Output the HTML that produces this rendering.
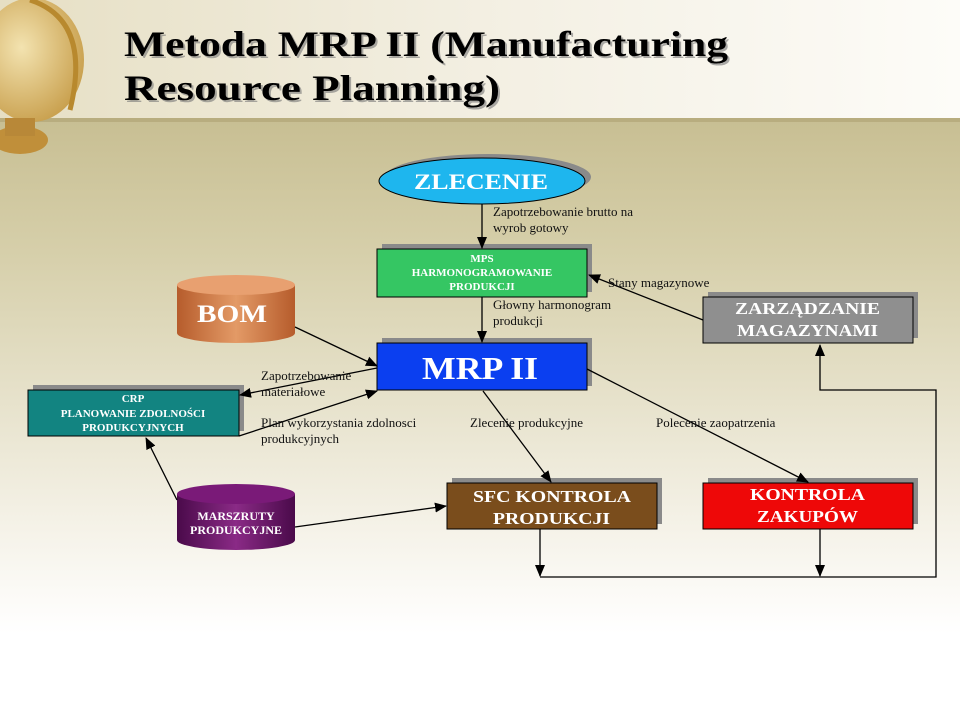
<!DOCTYPE html>
<html><head><meta charset="utf-8"><style>
html,body{margin:0;padding:0;width:960px;height:720px;overflow:hidden;}
svg{display:block}
.t{font-family:"Liberation Serif",serif;}
</style></head><body>
<svg width="960" height="720" viewBox="0 0 960 720" xmlns="http://www.w3.org/2000/svg">
<defs>
<linearGradient id="hdr" x1="0" y1="0" x2="1" y2="0"><stop offset="0" stop-color="#e6dfc4"/><stop offset="0.5" stop-color="#f3efe2"/><stop offset="1" stop-color="#fdfcf8"/></linearGradient>
<linearGradient id="bg" x1="0" y1="0" x2="0" y2="1"><stop offset="0" stop-color="#bbb07e"/><stop offset="0.35" stop-color="#d6cfaa"/><stop offset="0.72" stop-color="#f4f1e6"/><stop offset="0.88" stop-color="#ffffff"/><stop offset="1" stop-color="#ffffff"/></linearGradient>
<radialGradient id="globe" cx="0.4" cy="0.4" r="0.7"><stop offset="0" stop-color="#f3e3b0"/><stop offset="1" stop-color="#c59a45"/></radialGradient>
<linearGradient id="bom" x1="0" y1="0" x2="1" y2="0"><stop offset="0" stop-color="#b65c2c"/><stop offset="0.5" stop-color="#e39a66"/><stop offset="1" stop-color="#b65c2c"/></linearGradient>
<linearGradient id="mar" x1="0" y1="0" x2="1" y2="0"><stop offset="0" stop-color="#4a0a4a"/><stop offset="0.5" stop-color="#8a2a86"/><stop offset="1" stop-color="#4a0a4a"/></linearGradient>
<marker id="a" markerWidth="12" markerHeight="12" refX="11" refY="6" orient="auto" markerUnits="userSpaceOnUse"><path d="M0,1 L12,6 L0,11 z" fill="#000"/></marker>
</defs>
<rect x="0" y="0" width="960" height="720" fill="url(#bg)"/>
<rect x="0" y="0" width="960" height="118" fill="url(#hdr)"/>
<rect x="0" y="118" width="960" height="4" fill="#aea271" opacity="0.6"/>
<!-- globe -->
<ellipse cx="32" cy="60" rx="52" ry="62" fill="url(#globe)"/>
<path d="M30,0 Q92,20 70,110" stroke="#b8892e" stroke-width="5" fill="none"/>
<ellipse cx="20" cy="140" rx="28" ry="14" fill="#c08f3a"/>
<rect x="5" y="118" width="30" height="18" fill="#b88838"/>
<g class="t" font-weight="bold" font-size="36" fill="#000">
<text x="126" y="58" fill="#777" opacity="0.6" textLength="604" lengthAdjust="spacingAndGlyphs">Metoda MRP II (Manufacturing</text>
<text x="124" y="56" textLength="604" lengthAdjust="spacingAndGlyphs">Metoda MRP II (Manufacturing</text>
<text x="126" y="102" fill="#777" opacity="0.6" textLength="376" lengthAdjust="spacingAndGlyphs">Resource Planning)</text>
<text x="124" y="100" textLength="376" lengthAdjust="spacingAndGlyphs">Resource Planning)</text>
</g>
<!-- shadows -->
<g fill="#8a8a8a">
<ellipse cx="488" cy="177" rx="103" ry="23"/>
<rect x="382" y="244" width="210" height="48"/>
<rect x="382" y="338" width="210" height="48"/>
<rect x="33" y="385" width="211" height="46"/>
<rect x="452" y="478" width="210" height="46"/>
<rect x="708" y="478" width="210" height="46"/>
<rect x="708" y="292" width="210" height="46"/>
</g>
<ellipse cx="482" cy="181" rx="103" ry="23" fill="#1eb6ee" stroke="#000" stroke-width="1"/>
<rect x="377" y="249" width="210" height="48" fill="#35c663" stroke="#000"/>
<rect x="377" y="343" width="210" height="47" fill="#0b3ff0" stroke="#000"/>
<rect x="28" y="390" width="211" height="46" fill="#128481" stroke="#000"/>
<rect x="447" y="483" width="210" height="46" fill="#7a4d1c" stroke="#000"/>
<rect x="703" y="483" width="210" height="46" fill="#ee0808" stroke="#000"/>
<rect x="703" y="297" width="210" height="46" fill="#8f8f8f" stroke="#000"/>
<!-- cylinders -->
<rect x="177" y="285" width="118" height="48" fill="url(#bom)"/>
<ellipse cx="236" cy="333" rx="59" ry="10" fill="url(#bom)"/>
<ellipse cx="236" cy="285" rx="59" ry="10" fill="#e8a070"/>
<rect x="177" y="494" width="118" height="46" fill="url(#mar)"/>
<ellipse cx="236" cy="540" rx="59" ry="10" fill="url(#mar)"/>
<ellipse cx="236" cy="494" rx="59" ry="10" fill="#7a1a78"/>
<g class="t" fill="#fff" font-weight="bold">
<text x="414" y="189" font-size="22" textLength="134" lengthAdjust="spacingAndGlyphs">ZLECENIE</text>
<g text-anchor="middle">
<text x="482" y="262" font-size="11">MPS</text>
<text x="482" y="276" font-size="11">HARMONOGRAMOWANIE</text>
<text x="482" y="290" font-size="11">PRODUKCJI</text>
<text x="133" y="402" font-size="11">CRP</text>
<text x="133" y="417" font-size="11">PLANOWANIE ZDOLNOŚCI</text>
<text x="133" y="431" font-size="11">PRODUKCYJNYCH</text>
<text x="236" y="520" font-size="12">MARSZRUTY</text>
<text x="236" y="534" font-size="12">PRODUKCYJNE</text>
</g>
<text x="422" y="379" font-size="32" textLength="116" lengthAdjust="spacingAndGlyphs">MRP II</text>
<text x="473" y="502" font-size="17" textLength="158" lengthAdjust="spacingAndGlyphs">SFC KONTROLA</text>
<text x="493" y="524" font-size="17" textLength="117" lengthAdjust="spacingAndGlyphs">PRODUKCJI</text>
<text x="750" y="500" font-size="17" textLength="115" lengthAdjust="spacingAndGlyphs">KONTROLA</text>
<text x="757" y="522" font-size="17" textLength="101" lengthAdjust="spacingAndGlyphs">ZAKUPÓW</text>
<text x="735" y="314" font-size="17" textLength="145" lengthAdjust="spacingAndGlyphs">ZARZĄDZANIE</text>
<text x="737" y="336" font-size="17" textLength="141" lengthAdjust="spacingAndGlyphs">MAGAZYNAMI</text>
<text x="197" y="322" font-size="25" textLength="70" lengthAdjust="spacingAndGlyphs">BOM</text>
</g>
<!-- connectors -->
<g stroke="#000" stroke-width="1.3" fill="none">
<line x1="482" y1="204" x2="482" y2="248" marker-end="url(#a)"/>
<line x1="482" y1="297" x2="482" y2="342" marker-end="url(#a)"/>
<line x1="295" y1="327" x2="377" y2="366" marker-end="url(#a)"/>
<line x1="377" y1="368" x2="240" y2="395" marker-end="url(#a)"/>
<line x1="239" y1="436" x2="377" y2="391" marker-end="url(#a)"/>
<line x1="483" y1="391" x2="551" y2="482" marker-end="url(#a)"/>
<line x1="587" y1="369" x2="808" y2="482" marker-end="url(#a)"/>
<line x1="703" y1="320" x2="589" y2="275" marker-end="url(#a)"/>
<line x1="177" y1="500" x2="146" y2="438" marker-end="url(#a)"/>
<line x1="295" y1="527" x2="446" y2="506" marker-end="url(#a)"/>
<line x1="540" y1="529" x2="540" y2="576" marker-end="url(#a)"/>
<line x1="820" y1="529" x2="820" y2="576" marker-end="url(#a)"/>
<polyline points="540,577 936,577 936,390 820,390 820,345" marker-end="url(#a)"/>
</g>
<g class="t" font-size="13" fill="#111">
<text x="493" y="216">Zapotrzebowanie brutto na</text>
<text x="493" y="232">wyrob gotowy</text>
<text x="608" y="287">Stany magazynowe</text>
<text x="493" y="309">Głowny harmonogram</text>
<text x="493" y="325">produkcji</text>
<text x="261" y="380">Zapotrzebowanie</text>
<text x="261" y="396">materiałowe</text>
<text x="261" y="427">Plan wykorzystania zdolnosci</text>
<text x="261" y="443">produkcyjnych</text>
<text x="470" y="427">Zlecenie produkcyjne</text>
<text x="656" y="427">Polecenie zaopatrzenia</text>
</g>
</svg>
</body></html>
